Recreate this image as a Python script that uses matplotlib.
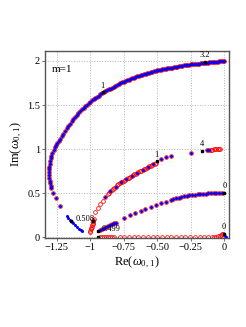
import matplotlib
matplotlib.use("Agg")
import matplotlib.pyplot as plt

plt.rcParams['font.family'] = ['Liberation Serif', 'DejaVu Serif']
plt.rcParams['mathtext.fontset'] = 'custom'
plt.rcParams['mathtext.rm'] = 'Liberation Serif'
plt.rcParams['mathtext.it'] = 'Liberation Serif:italic'

# upper branch, from Re=0 leftwards (red + blue)
top_x = [0.000, -0.0125, -0.025, -0.0375, -0.050, -0.0625, -0.075, -0.0875, -0.100,
         -0.1125, -0.125, -0.1375, -0.150, -0.1625, -0.175, -0.1875, -0.200,
         -0.2125, -0.225, -0.2375, -0.250, -0.2625, -0.275, -0.2875, -0.300,
         -0.3125, -0.325, -0.3375, -0.350, -0.3625, -0.375, -0.3875, -0.400,
         -0.4125, -0.425, -0.4375, -0.450, -0.4625, -0.475, -0.4875, -0.500,
         -0.5125, -0.525, -0.5375, -0.550, -0.5625, -0.575, -0.5875, -0.600,
         -0.6125, -0.625, -0.6375, -0.650, -0.6625, -0.675, -0.6875, -0.700,
         -0.7125, -0.725, -0.7375, -0.750, -0.7625, -0.775, -0.7875, -0.800,
         -0.8125, -0.825, -0.8375, -0.850, -0.8625, -0.875, -0.8875, -0.900,
         -0.9125, -0.925, -0.9375, -0.950, -0.9625, -0.975, -0.9875, -1.000,
         -1.0125, -1.025, -1.0375, -1.050, -1.0625, -1.075, -1.0875, -1.100,
         -1.1125, -1.125, -1.1375, -1.150, -1.1625, -1.175, -1.1875, -1.200,
         -1.2125, -1.225, -1.235, -1.245, -1.254, -1.262]
top_y = [2.000, 1.999, 1.997, 1.995, 1.993, 1.991, 1.989, 1.987, 1.985,
         1.983, 1.981, 1.979, 1.977, 1.975, 1.973, 1.971, 1.969,
         1.967, 1.965, 1.963, 1.961, 1.958, 1.955, 1.952, 1.949,
         1.946, 1.943, 1.940, 1.937, 1.933, 1.930, 1.926, 1.923,
         1.919, 1.916, 1.912, 1.909, 1.905, 1.902, 1.898, 1.895,
         1.889, 1.884, 1.878, 1.872, 1.866, 1.860, 1.854, 1.848,
         1.842, 1.836, 1.830, 1.824, 1.817, 1.810, 1.803, 1.796,
         1.788, 1.781, 1.773, 1.765, 1.756, 1.746, 1.737, 1.727,
         1.717, 1.707, 1.697, 1.687, 1.677, 1.666, 1.656, 1.646,
         1.633, 1.620, 1.606, 1.592, 1.579, 1.565, 1.552, 1.538,
         1.522, 1.505, 1.488, 1.470, 1.451, 1.432, 1.411, 1.390,
         1.367, 1.343, 1.317, 1.290, 1.263, 1.235, 1.205, 1.175,
         1.145, 1.115, 1.090, 1.065, 1.042, 1.020]

# steep left part of the same branch
left_x = [-1.272, -1.282, -1.290, -1.296, -1.300, -1.303, -1.305, -1.306, -1.306,
          -1.305, -1.304, -1.301, -1.298, -1.294, -1.289, -1.279, -1.258, -1.225]
left_y = [0.990, 0.959, 0.925, 0.895, 0.865, 0.830, 0.800, 0.770, 0.737,
          0.707, 0.677, 0.643, 0.613, 0.583, 0.556, 0.508, 0.444, 0.350]

# blue piece near 0.508
b508_x = [-1.175, -1.162, -1.150, -1.138, -1.125, -1.112, -1.098, -1.085, -1.072, -1.058]
b508_y = [0.237, 0.218, 0.198, 0.178, 0.158, 0.138, 0.118, 0.100, 0.083, 0.068]

# red cluster near Re=-1
clus_x = [-0.974, -0.976, -0.978, -0.980, -0.982, -0.985, -0.988, -0.991, -0.995, -0.999, -1.003]
clus_y = [0.210, 0.195, 0.180, 0.165, 0.150, 0.135, 0.120, 0.105, 0.090, 0.075, 0.060]

# second branch (red)
arc2_x = [-0.962, -0.943, -0.925, -0.908, -0.888, -0.870, -0.860, -0.850, -0.840,
          -0.830, -0.820, -0.810, -0.800, -0.790, -0.780, -0.770, -0.760, -0.750,
          -0.740, -0.730, -0.720, -0.710, -0.700, -0.690, -0.680, -0.670, -0.660,
          -0.650, -0.640, -0.630, -0.620, -0.610, -0.600, -0.590, -0.580, -0.570,
          -0.560, -0.550, -0.540, -0.530, -0.520, -0.510]
arc2_y = [0.282, 0.331, 0.376, 0.417, 0.455, 0.490, 0.507, 0.523, 0.537,
          0.550, 0.563, 0.576, 0.588, 0.600, 0.611, 0.622, 0.631, 0.640,
          0.650, 0.659, 0.668, 0.677, 0.686, 0.695, 0.704, 0.713, 0.722,
          0.730, 0.739, 0.747, 0.756, 0.764, 0.772, 0.780, 0.788, 0.796,
          0.804, 0.812, 0.820, 0.828, 0.836, 0.845]
arc2_blue_x = [-0.888, -0.850, -0.810, -0.770, -0.730, -0.690, -0.650, -0.610, -0.570, -0.530]
arc2_blue_y = [0.455, 0.523, 0.576, 0.622, 0.659, 0.695, 0.730, 0.764, 0.796, 0.828]

# sparse end of second branch (red + blue)
tail_x = [-0.472, -0.434, -0.397, -0.250, -0.126, -0.112]
tail_y = [0.887, 0.907, 0.922, 0.962, 0.992, 0.994]
tail_red_x = [-0.100, -0.090, -0.080, -0.070, -0.060, -0.050, -0.040, -0.030]
tail_red_y = [0.995, 0.996, 0.997, 0.998, 0.998, 0.999, 1.000, 1.000]

# third branch (red + blue)
arc3_x = [-0.925, -0.910, -0.895, -0.880, -0.865, -0.850, -0.835, -0.820, -0.810,
          -0.745, -0.700, -0.663, -0.625, -0.588, -0.550, -0.513, -0.475, -0.438,
          -0.400, -0.380, -0.360, -0.340, -0.320, -0.300, -0.280, -0.260, -0.240,
          -0.220, -0.200, -0.180, -0.160, -0.140, -0.120, -0.100, -0.080, -0.060,
          -0.040, -0.020]
arc3_y = [0.086, 0.096, 0.107, 0.118, 0.128, 0.139, 0.150, 0.161, 0.168,
          0.218, 0.248, 0.274, 0.300, 0.323, 0.342, 0.365, 0.387, 0.406,
          0.425, 0.433, 0.441, 0.449, 0.457, 0.464, 0.470, 0.475, 0.480,
          0.484, 0.488, 0.491, 0.494, 0.496, 0.498, 0.499, 0.500, 0.500,
          0.500, 0.500]

# branch along the real axis (red)
base_x = [-0.925, -0.910, -0.895, -0.880, -0.865, -0.850, -0.835, -0.820,
          -0.780, -0.745, -0.710, -0.675, -0.640, -0.605, -0.570, -0.535,
          -0.500, -0.465, -0.430, -0.395, -0.360, -0.325, -0.290, -0.255,
          -0.220, -0.185, -0.150, -0.120, -0.095, -0.075, -0.060, -0.045,
          -0.035, -0.025, -0.015, -0.008]
base_y = [0.004, 0.004, 0.004, 0.004, 0.004, 0.004, 0.004, 0.004,
          0.004, 0.004, 0.004, 0.004, 0.004, 0.004, 0.004, 0.004,
          0.004, 0.004, 0.004, 0.004, 0.004, 0.004, 0.004, 0.004,
          0.004, 0.004, 0.005, 0.005, 0.006, 0.007, 0.009, 0.013,
          0.018, 0.026, 0.034, 0.041]
base_blue_x = [0.004, 0.009]
base_blue_y = [0.016, 0.004]

# labelled points
mark_x = [-0.143, -0.908, -0.503, -0.168, 0.000, -0.004, -1.143, -0.943, -0.982, -0.943]
mark_y = [1.990, 1.644, 0.862, 0.984, 0.500, 0.036, 0.180, 0.068, 0.190, 0.004]
mark_text = ['3.2', '1', '1', '4', '0', '0', '0.508', '0.499', '', '']

fig = plt.figure(figsize=(2.46, 3.27), dpi=100)
ax = fig.add_axes([0.183, 0.272, 0.748, 0.572])

red = dict(ls='none', marker='o', ms=2.7, mfc='none', mec='red', mew=0.55)
blue = dict(ls='none', marker='o', ms=2.2, mfc='blue', mec='none')

for xs, ys in [(top_x, top_y), (left_x, left_y), (clus_x, clus_y), (arc2_x, arc2_y),
               (tail_x, tail_y), (tail_red_x, tail_red_y), (arc3_x, arc3_y),
               (base_x, base_y)]:
    ax.plot(xs, ys, **red)
for xs, ys in [(top_x, top_y), (left_x, left_y), (b508_x, b508_y),
               (arc2_blue_x, arc2_blue_y), (tail_x, tail_y), (arc3_x, arc3_y),
               (base_blue_x, base_blue_y)]:
    ax.plot(xs, ys, **blue)

ax.plot(mark_x, mark_y, ls='none', marker='s', ms=1.9, color='black')
for x, y, t in zip(mark_x, mark_y, mark_text):
    if not t:
        continue
    if t in ('0.508', '0.499'):
        ax.annotate(t, (x, y), xytext=(3.0, 2.0), textcoords='offset points',
                    ha='left', va='center', fontsize=6)
    else:
        ax.annotate(t, (x, y), xytext=(0, 2.0), textcoords='offset points',
                    ha='center', va='bottom', fontsize=6)

ax.text(-1.285, 1.90, 'm=1', ha='left', va='center', fontsize=8)

ax.set_xlim(-1.337, 0.035)
ax.set_ylim(-0.008, 2.113)
ax.set_xticks([-1.25, -1, -0.75, -0.5, -0.25, 0])
ax.set_xticklabels(['\u22121.25', '\u22121', '\u22120.75', '\u22120.50', '\u22120.25', '0'])
ax.set_yticks([0, 0.5, 1, 1.5, 2])
ax.set_yticklabels(['0', '0.5', '1', '1.5', '2'])
ax.tick_params(labelsize=7.5, length=2, width=0.6, color='#555555', pad=1.5)
ax.grid(True, ls=':', lw=0.7, color='#b4b4b4')
ax.set_axisbelow(True)
for s in ax.spines.values():
    s.set_color('#555555')
    s.set_linewidth(1.0)

ax.set_xlabel(r'Re($\omega_{0,\,1}$)', fontsize=9, labelpad=2)
ax.set_ylabel(r'Im($\omega_{0,\,1}$)', fontsize=9, labelpad=2)

fig.savefig('out.png', dpi=100)
